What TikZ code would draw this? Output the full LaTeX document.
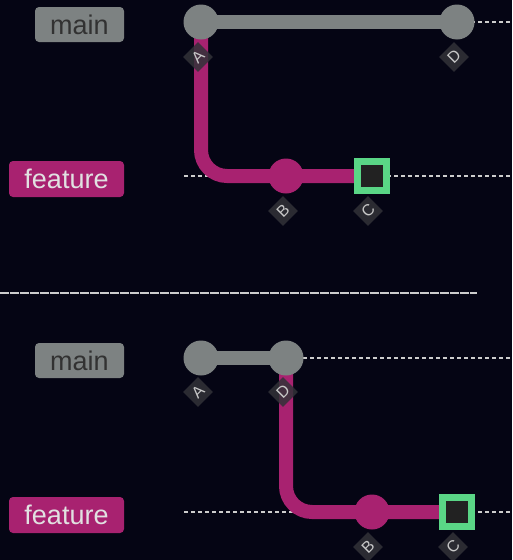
\documentclass[tikz,border=0pt]{standalone}
\usepackage{fontspec}
\setmainfont{Liberation Sans}
\definecolor{bg}{RGB}{5,5,20}
\definecolor{maingray}{RGB}{125,130,130}
\definecolor{featmag}{RGB}{168,34,112}
\definecolor{hlgreen}{RGB}{90,214,134}
\definecolor{hlin}{RGB}{34,34,34}
\definecolor{dashc}{RGB}{205,205,205}
\definecolor{tagbg}{RGB}{50,50,56}
\definecolor{tagtx}{RGB}{200,200,200}
\begin{document}
\begin{tikzpicture}[x=1pt,y=-1pt,
  branchdash/.style={draw=dashc,line width=1.3pt,dash pattern=on 4pt off 3pt},
  mainline/.style={draw=maingray,line width=14pt},
  featline/.style={draw=featmag,line width=14pt,rounded corners=26pt},
  maincommit/.style={circle,fill=maingray,minimum size=35pt,inner sep=0pt},
  featcommit/.style={circle,fill=featmag,minimum size=35pt,inner sep=0pt},
  hlcommit/.style={rectangle,fill=hlin,draw=hlgreen,line width=7pt,minimum size=29pt,inner sep=0pt},
  tag/.style={rectangle,fill=tagbg,fill opacity=0.85,text opacity=1,text=tagtx,rotate=45,minimum size=21pt,inner sep=0pt,font=\fontsize{16pt}{16pt}\selectfont},
  brlabel/.style={rectangle,rounded corners=4pt,inner sep=0pt,font=\fontsize{27pt}{27pt}\selectfont},
  sep/.style={draw=dashc,line width=1.5pt,dash pattern=on 9pt off 1pt}
]
\fill[bg] (0,0) rectangle (512,560);
\useasboundingbox (0,0) rectangle (512,560);

% ---------- top graph ----------
\coordinate (tm0) at (184,22);
\coordinate (tm1) at (512,22);
\coordinate (tf0) at (184,176);
\coordinate (tf1) at (512,176);
\draw[branchdash] (tm0) -- (tm1);
\draw[branchdash] (tf0) -- (tf1);
\node[brlabel,fill=maingray,text={rgb,255:red,50;green,50;blue,50},minimum width=89pt,minimum height=35pt] (tmainlab) at (79.5,24.5) {main};
\node[brlabel,fill=featmag,text={rgb,255:red,225;green,225;blue,225},minimum width=115pt,minimum height=36pt] (tfeatlab) at (66.5,179) {feature};
\coordinate (tA) at (201,22);
\coordinate (tD) at (457,22);
\coordinate (tB) at (286,176);
\coordinate (tC) at (372,176);
\draw[mainline] (tA) -- (tD);
\draw[featline] (tA) |- (tC);
\node[maincommit] (tAn) at (tA) {};
\node[maincommit] (tDn) at (tD) {};
\node[featcommit] (tBn) at (tB) {};
\node[hlcommit] (tCn) at (tC) {};
\node[tag] (tAl) at (198,57) {A};
\node[tag] (tDl) at (454,57) {D};
\node[tag] (tBl) at (283,211) {B};
\node[tag] (tCl) at (368,211) {C};

% ---------- separator ----------
\coordinate (s0) at (0,293);
\coordinate (s1) at (477,293);
\draw[sep] (s0) -- (s1);

% ---------- bottom graph ----------
\coordinate (bm0) at (184,358);
\coordinate (bm1) at (512,358);
\coordinate (bf0) at (184,512);
\coordinate (bf1) at (512,512);
\draw[branchdash] (bm0) -- (bm1);
\draw[branchdash] (bf0) -- (bf1);
\node[brlabel,fill=maingray,text={rgb,255:red,50;green,50;blue,50},minimum width=89pt,minimum height=35pt] (bmainlab) at (79.5,360.5) {main};
\node[brlabel,fill=featmag,text={rgb,255:red,225;green,225;blue,225},minimum width=115pt,minimum height=36pt] (bfeatlab) at (66.5,515) {feature};
\coordinate (bA) at (201,358);
\coordinate (bD) at (286,358);
\coordinate (bB) at (372,512);
\coordinate (bC) at (457,512);
\draw[mainline] (bA) -- (bD);
\draw[featline] (bD) |- (bC);
\node[maincommit] (bAn) at (bA) {};
\node[maincommit] (bDn) at (bD) {};
\node[featcommit] (bBn) at (bB) {};
\node[hlcommit] (bCn) at (bC) {};
\node[tag] (bAl) at (198,392) {A};
\node[tag] (bDl) at (283,392) {D};
\node[tag] (bBl) at (368,547) {B};
\node[tag] (bCl) at (453,547) {C};
\end{tikzpicture}
\end{document}
